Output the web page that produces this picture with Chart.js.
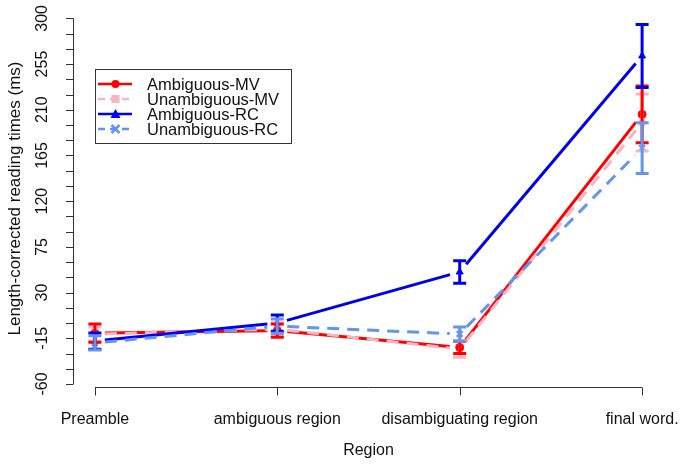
<!DOCTYPE html>
<html>
<head>
<meta charset="utf-8">
<script src="https://cdn.jsdelivr.net/npm/chart.js@4.4.1/dist/chart.umd.min.js"></script>
<style>
  html, body { margin: 0; padding: 0; background: #fff; }
  #wrap { width: 685px; height: 465px; }
</style>
</head>
<body>
<div id="wrap"><canvas id="regionChart" width="685" height="465"></canvas></div>
<script>
const categories = ['Preamble', 'ambiguous region', 'disambiguating region', 'final word.'];
const seriesNames = ['Ambiguous-MV', 'Unambiguous-MV', 'Ambiguous-RC', 'Unambiguous-RC'];
const ambMV = [-10, -7.5, -24, 205.5];
const ambMVErr = [9, 6.5, 6, 28];
const unambMV = [-11, -6, -25.6, 197.5];
const unambMVErr = [7, 6, 8, 28];
const ambRC = [-17.7, 0, 50.3, 263];
const ambRCErr = [8, 8, 11, 31];
const unambRC = [-19.6, -3, -10.8, 172.3];
const unambRCErr = [7, 7, 7, 25];
const yTickLabels = [-60, -15, 30, 75, 120, 165, 210, 255, 300];
const yMinorStep = 15;

const FONT = '16px "Liberation Sans", Arial, sans-serif';
const AXIS_COL = '#333';

function pts(vals) {
  return vals.map((v, i) => ({ x: i, y: v }));
}

const styles = [
  { color: '#FF0000', dash: [], shape: 'circle', err: ambMVErr },
  { color: '#F7B5C4', dash: [12, 8], shape: 'rect', err: unambMVErr },
  { color: '#0000EE', dash: [], shape: 'triangle', err: ambRCErr },
  { color: '#6495ED', dash: [12, 8], shape: 'crossRot', err: unambRCErr }
];
const values = [ambMV, unambMV, ambRC, unambRC];

function drawMarker(ctx, shape, color, x, y) {
  ctx.save();
  ctx.fillStyle = color;
  ctx.strokeStyle = color;
  ctx.lineWidth = 2.5;
  ctx.setLineDash([]);
  ctx.beginPath();
  if (shape === 'circle') {
    ctx.arc(x, y, 4, 0, Math.PI * 2);
    ctx.fill();
  } else if (shape === 'rect') {
    ctx.fillRect(x - 4, y - 4, 8, 8);
  } else if (shape === 'triangle') {
    ctx.moveTo(x, y - 5);
    ctx.lineTo(x + 5, y + 4);
    ctx.lineTo(x - 5, y + 4);
    ctx.closePath();
    ctx.fill();
  } else {
    ctx.moveTo(x - 4, y - 4); ctx.lineTo(x + 4, y + 4);
    ctx.moveTo(x + 4, y - 4); ctx.lineTo(x - 4, y + 4);
    ctx.stroke();
  }
  ctx.restore();
}

const rStyle = {
  id: 'rStyle',
  beforeDatasetsDraw(chart) {
    const ctx = chart.ctx;
    const gap = 10;
    chart.data.datasets.forEach((ds, di) => {
      const meta = chart.getDatasetMeta(di);
      const st = styles[di];
      ctx.save();
      ctx.strokeStyle = st.color;
      ctx.lineWidth = 3;
      ctx.setLineDash(st.dash);
      for (let i = 0; i < meta.data.length - 1; i++) {
        const a = meta.data[i], b = meta.data[i + 1];
        const dx = b.x - a.x, dy = b.y - a.y;
        const len = Math.hypot(dx, dy);
        const ux = dx / len, uy = dy / len;
        ctx.lineDashOffset = 0;
        ctx.beginPath();
        ctx.moveTo(a.x + ux * gap, a.y + uy * gap);
        ctx.lineTo(b.x - ux * gap, b.y - uy * gap);
        ctx.stroke();
      }
      ctx.restore();
    });
  },
  afterDatasetsDraw(chart) {
    const ctx = chart.ctx;
    const xs = chart.scales.x, ys = chart.scales.y;

    // error bars
    [1, 0, 2, 3].forEach(di => {
      const st = styles[di];
      ctx.save();
      ctx.strokeStyle = st.color;
      ctx.lineWidth = 3;
      ctx.setLineDash([]);
      values[di].forEach((v, i) => {
        const px = xs.getPixelForValue(i);
        const top = ys.getPixelForValue(v + st.err[i]);
        const bot = ys.getPixelForValue(v - st.err[i]);
        ctx.beginPath();
        ctx.moveTo(px, top); ctx.lineTo(px, bot);
        ctx.moveTo(px - 6.5, top); ctx.lineTo(px + 6.5, top);
        ctx.moveTo(px - 6.5, bot); ctx.lineTo(px + 6.5, bot);
        ctx.stroke();
      });
      ctx.restore();
    });

    ctx.save();
    ctx.strokeStyle = AXIS_COL;
    ctx.fillStyle = '#111';
    ctx.lineWidth = 1;
    ctx.font = FONT;

    // y axis
    const yAxisX = chart.chartArea.left;
    const yLo = ys.getPixelForValue(yTickLabels[0]);
    const yHi = ys.getPixelForValue(yTickLabels[yTickLabels.length - 1]);
    ctx.beginPath();
    ctx.moveTo(yAxisX + 0.5, yLo); ctx.lineTo(yAxisX + 0.5, yHi);
    for (let v = yTickLabels[0]; v <= yTickLabels[yTickLabels.length - 1]; v += yMinorStep) {
      const py = Math.round(ys.getPixelForValue(v)) + 0.5;
      ctx.moveTo(yAxisX + 0.5, py); ctx.lineTo(yAxisX - 7, py);
    }
    ctx.stroke();
    ctx.textAlign = 'center';
    ctx.textBaseline = 'middle';
    yTickLabels.forEach(v => {
      ctx.save();
      ctx.translate(yAxisX - 30, ys.getPixelForValue(v));
      ctx.rotate(-Math.PI / 2);
      ctx.fillText(String(v), 0, 0);
      ctx.restore();
    });
    ctx.save();
    ctx.font = '17px "Liberation Sans", Arial, sans-serif';
    ctx.translate(15, (chart.chartArea.top + chart.chartArea.bottom) / 2);
    ctx.rotate(-Math.PI / 2);
    ctx.fillText('Length-corrected reading times (ms)', 0, 0);
    ctx.restore();

    // x axis
    const xAxisY = chart.chartArea.bottom + 0.5;
    const x0 = xs.getPixelForValue(0), x1 = xs.getPixelForValue(categories.length - 1);
    ctx.beginPath();
    ctx.moveTo(x0, xAxisY); ctx.lineTo(x1, xAxisY);
    categories.forEach((c, i) => {
      const px = Math.round(xs.getPixelForValue(i)) + 0.5;
      ctx.moveTo(px, xAxisY); ctx.lineTo(px, xAxisY + 8);
    });
    ctx.stroke();
    categories.forEach((c, i) => {
      ctx.fillText(c, xs.getPixelForValue(i), 420);
    });
    ctx.fillText('Region', (chart.chartArea.left + chart.chartArea.right) / 2, 451);

    // legend
    ctx.strokeStyle = '#333';
    ctx.strokeRect(95.5, 69.5, 196, 74);
    ctx.textAlign = 'left';
    ctx.font = '16.5px "Liberation Sans", Arial, sans-serif';
    seriesNames.forEach((name, i) => {
      const ly = 84 + i * 15;
      const st = styles[i];
      ctx.save();
      ctx.strokeStyle = st.color;
      ctx.lineWidth = 2.5;
      ctx.setLineDash(st.dash.length ? [7, 5] : []);
      ctx.beginPath();
      ctx.moveTo(98, ly); ctx.lineTo(132, ly);
      ctx.stroke();
      ctx.restore();
      drawMarker(ctx, st.shape, st.color, 115.5, ly);
      ctx.fillStyle = '#111';
      ctx.fillText(name, 147, ly + 1);
    });
    ctx.restore();
  }
};

const ctx = document.getElementById('regionChart').getContext('2d');
new Chart(ctx, {
  type: 'scatter',
  data: {
    datasets: values.map((vals, di) => ({
      label: seriesNames[di],
      data: pts(vals),
      showLine: false,
      pointStyle: styles[di].shape,
      pointRadius: 4,
      pointBorderWidth: styles[di].shape === 'crossRot' ? 2.5 : 1,
      pointBackgroundColor: styles[di].color,
      pointBorderColor: styles[di].color
    }))
  },
  options: {
    responsive: false,
    animation: false,
    layout: { padding: { left: 73, right: 21, top: 10, bottom: 78 } },
    plugins: { legend: { display: false }, tooltip: { enabled: false } },
    scales: {
      x: { type: 'linear', min: -0.12, max: 3.12, display: false },
      y: { type: 'linear', min: -62.95, max: 308.2, display: false }
    }
  },
  plugins: [rStyle]
});
</script>
</body>
</html>
